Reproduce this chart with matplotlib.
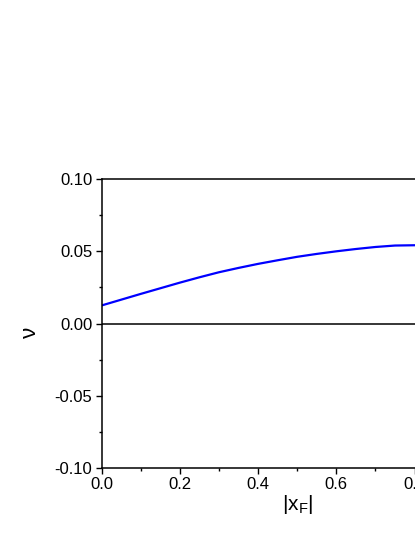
import matplotlib.pyplot as plt
from matplotlib.ticker import MultipleLocator

plt.rcParams['font.family'] = ['Liberation Sans', 'DejaVu Sans']
plt.rcParams['mathtext.fontset'] = 'custom'
plt.rcParams['mathtext.rm'] = 'Liberation Sans'

# |x_F| vs nu
xf = [0.0, 0.05, 0.1, 0.15, 0.2, 0.25, 0.3, 0.35, 0.4, 0.45,
      0.5, 0.55, 0.6, 0.65, 0.7, 0.75, 0.8, 0.85]
nu = [0.0125, 0.0165, 0.0205, 0.0244, 0.0283, 0.0320, 0.0355, 0.0385, 0.0413, 0.0438,
      0.0462, 0.0482, 0.0500, 0.0516, 0.0530, 0.0540, 0.0542, 0.0542]

fig = plt.figure(figsize=(4.15, 5.37), dpi=100)
ax = fig.add_axes([0.2446, 0.1285, 0.943, 0.538])

ax.plot(xf, nu, color='#0000ff', lw=1.6)
ax.axhline(0, color='black', lw=1.1)

ax.set_xlim(0, 1)
ax.set_ylim(-0.1, 0.1)
ax.xaxis.set_major_locator(MultipleLocator(0.2))
ax.xaxis.set_minor_locator(MultipleLocator(0.1))
ax.yaxis.set_major_locator(MultipleLocator(0.05))
ax.yaxis.set_minor_locator(MultipleLocator(0.025))
ax.xaxis.set_major_formatter(lambda v, p: f'{v:.1f}')
ax.yaxis.set_major_formatter(lambda v, p: f'{v:.2f}')

for s in ax.spines.values():
    s.set_linewidth(1.1)
ax.tick_params(which='major', direction='out', length=4.5, width=1.0, labelsize=12, pad=2)
ax.tick_params(which='minor', direction='out', length=2.5, width=1.0)

ax.set_xlabel(r'|x$_\mathregular{F}$|', fontsize=15)
ax.xaxis.set_label_coords(0.5, -0.085)
ax.set_ylabel('ν', fontsize=16)
ax.yaxis.set_label_coords(-0.155, 0.47)

fig.savefig('out.png', dpi=100)
